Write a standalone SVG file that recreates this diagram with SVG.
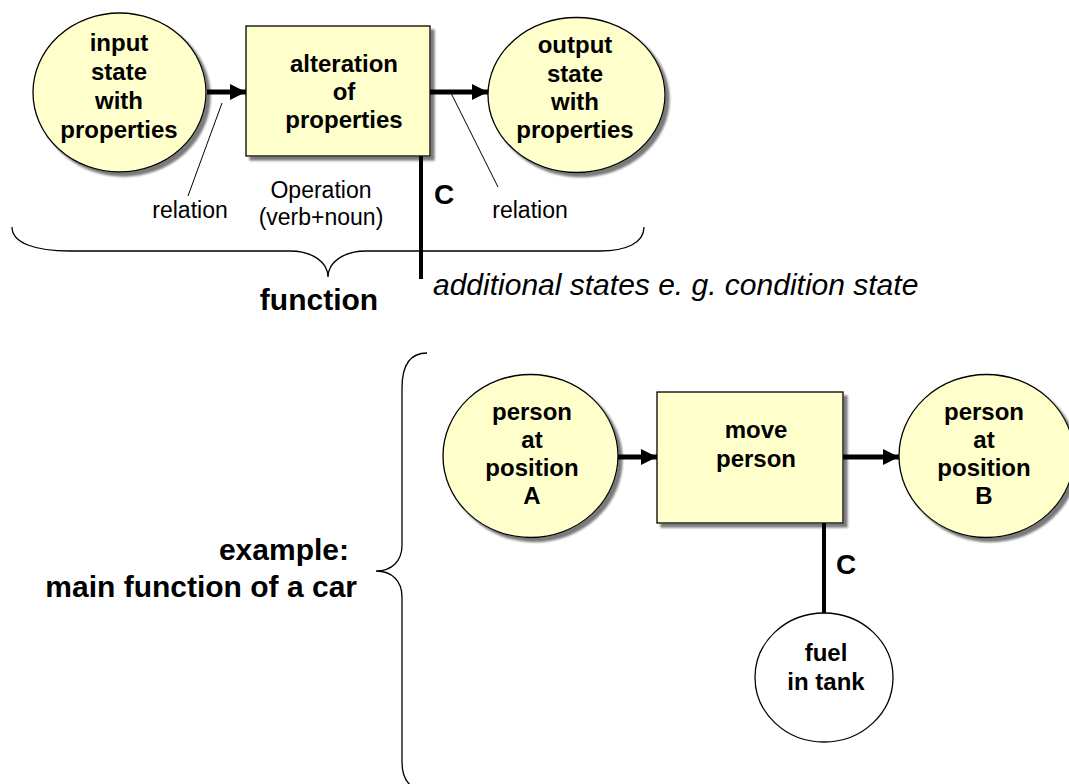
<svg xmlns="http://www.w3.org/2000/svg" width="1069" height="784" viewBox="0 0 1069 784">
  <defs>
    <filter id="shadow" x="-10%" y="-10%" width="130%" height="130%">
      <feDropShadow dx="4" dy="4" stdDeviation="1" flood-color="#7a7a7a" flood-opacity="1"/>
    </filter>
    <marker id="head" viewBox="0 0 16 16" markerWidth="16" markerHeight="16" refX="16" refY="8" orient="auto" markerUnits="userSpaceOnUse">
      <path d="M0,0 L16,8 L0,16 Z" fill="#000"/>
    </marker>
    <style>
      .state { fill: #FFFFCC; stroke: #000; stroke-width: 1.3; filter: url(#shadow); }
      .op { fill: #FFFFCC; stroke: #000; stroke-width: 1.3; filter: url(#shadow); }
      .plain { fill: #fff; stroke: #000; stroke-width: 1.3; }
      .flow { stroke: #000; stroke-width: 5; fill: none; }
      .cond { stroke: #000; stroke-width: 4; fill: none; }
      .thin { stroke: #000; stroke-width: 1; fill: none; }
      .brace { stroke: #000; stroke-width: 1.3; fill: none; }
      .nl { font-family: "Liberation Sans", Arial, sans-serif; font-weight: bold; font-size: 24px; fill: #000; text-anchor: middle; }
      .lbl { font-family: "Liberation Sans", Arial, sans-serif; font-size: 23px; fill: #000; text-anchor: middle; }
      .big { font-family: "Liberation Sans", Arial, sans-serif; font-weight: bold; font-size: 30px; fill: #000; }
      .cc { font-family: "Liberation Sans", Arial, sans-serif; font-weight: bold; font-size: 28px; fill: #000; }
      .note { font-family: "Liberation Sans", Arial, sans-serif; font-style: italic; font-size: 30px; fill: #000; }
    </style>
  </defs>

  <!-- generic function: input state -> operation -> output state -->
  <g id="input-state">
    <ellipse class="state" cx="119.5" cy="92.5" rx="86.5" ry="79.5"/>
    <text class="nl" x="119" y="51">input</text>
    <text class="nl" x="119" y="80">state</text>
    <text class="nl" x="119" y="109">with</text>
    <text class="nl" x="119" y="138">properties</text>
  </g>

  <g id="operation">
    <rect class="op" x="246" y="26" width="184" height="130"/>
    <text class="nl" x="344" y="72">alteration</text>
    <text class="nl" x="344" y="100">of</text>
    <text class="nl" x="344" y="128">properties</text>
  </g>

  <g id="output-state">
    <ellipse class="state" cx="576.5" cy="95" rx="88.5" ry="77.5"/>
    <text class="nl" x="575" y="53">output</text>
    <text class="nl" x="575" y="82">state</text>
    <text class="nl" x="575" y="110">with</text>
    <text class="nl" x="575" y="138">properties</text>
  </g>

  <!-- car example -->
  <g id="position-a">
    <ellipse class="state" cx="530.5" cy="456" rx="87.5" ry="81.5"/>
    <text class="nl" x="532" y="420">person</text>
    <text class="nl" x="532" y="448">at</text>
    <text class="nl" x="532" y="476">position</text>
    <text class="nl" x="532" y="504">A</text>
  </g>

  <g id="move-person">
    <rect class="op" x="657" y="392" width="186" height="131"/>
    <text class="nl" x="756" y="438">move</text>
    <text class="nl" x="756" y="467">person</text>
  </g>

  <g id="position-b">
    <ellipse class="state" cx="986.5" cy="456" rx="87.5" ry="81.5"/>
    <text class="nl" x="984" y="420">person</text>
    <text class="nl" x="984" y="448">at</text>
    <text class="nl" x="984" y="476">position</text>
    <text class="nl" x="984" y="504">B</text>
  </g>

  <g id="fuel-in-tank">
    <ellipse class="plain" cx="824" cy="677.5" rx="69" ry="64.5"/>
    <text class="nl" x="826" y="661">fuel</text>
    <text class="nl" x="826" y="690">in tank</text>
  </g>

  <!-- connectors -->
  <g id="connectors">
    <line class="flow" x1="207" y1="92" x2="246" y2="92" marker-end="url(#head)"/>
    <line class="flow" x1="430" y1="92" x2="488" y2="92" marker-end="url(#head)"/>
    <line class="cond" x1="421" y1="156" x2="421" y2="279"/>
    <line class="thin" x1="222" y1="103" x2="188" y2="196"/>
    <line class="thin" x1="451" y1="93" x2="498" y2="187"/>

    <line class="flow" x1="618" y1="457" x2="657" y2="457" marker-end="url(#head)"/>
    <line class="flow" x1="843" y1="457" x2="899" y2="457" marker-end="url(#head)"/>
    <line class="cond" x1="824" y1="523" x2="824" y2="613"/>
  </g>

  <!-- braces -->
  <g id="braces">
    <path class="brace" d="M12,227 C12,243 35,251 70,251 L290,251 C312,251 328,262 328,277 C328,262 344,251 366,251 L600,251 C626,251 644,243 644,227"/>
    <path class="brace" d="M427,353 C410,353 402,365 402,388 L402,545 C402,561 392,571 376,571 C392,571 402,581 402,597 L402,762 C402,780 410,790 427,792"/>
  </g>

  <!-- labels -->
  <g id="labels">
    <text class="lbl" x="190" y="218">relation</text>
    <text class="lbl" x="321" y="198">Operation</text>
    <text class="lbl" x="321" y="225">(verb+noun)</text>
    <text class="cc" x="434" y="204">C</text>
    <text class="lbl" x="530" y="218">relation</text>
    <text class="big" x="319" y="310" text-anchor="middle">function</text>
    <text class="note" x="433" y="295">additional states e. g. condition state</text>
    <text class="cc" x="836" y="574">C</text>
    <text class="big" x="349" y="560" text-anchor="end">example:</text>
    <text class="big" x="357" y="597" text-anchor="end">main function of a car</text>
  </g>
</svg>
